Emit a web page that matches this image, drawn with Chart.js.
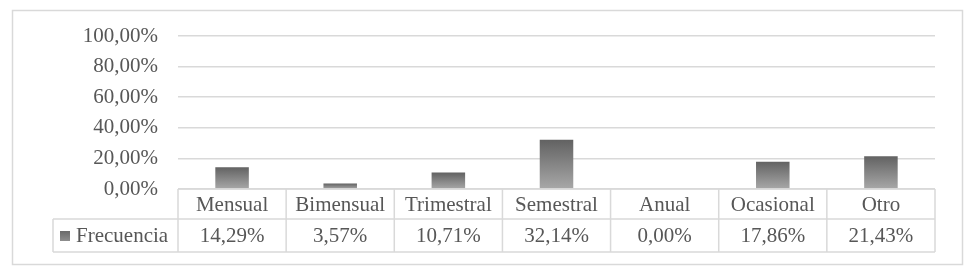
<!DOCTYPE html>
<html>
<head>
<meta charset="utf-8">
<script src="https://cdn.jsdelivr.net/npm/chart.js@4.4.1/dist/chart.umd.min.js"></script>
<style>
  html, body { margin: 0; padding: 0; background: #ffffff; }
  #wrap { width: 970px; height: 273px; position: relative; }
</style>
</head>
<body>
<div id="wrap"><canvas id="grafico"></canvas></div>
<script>
const categorias = ['Mensual', 'Bimensual', 'Trimestral', 'Semestral', 'Anual', 'Ocasional', 'Otro'];
const frecuencia = [0.1429, 0.0357, 0.1071, 0.3214, 0, 0.1786, 0.2143];
const nomeSerie = 'Frecuencia';

const fonte = 'Liberation Serif, Times New Roman, serif';
const corTexto = '#575757';
const corLinha = '#d9d9d9';

function formatarPct(v) {
  return (v * 100).toFixed(2).replace('.', ',') + '%';
}

// gradiente por barra, escuro em cima e claro na base
function corBarra(ctx) {
  const chart = ctx.chart;
  const y = chart.scales.y;
  if (!chart.chartArea || !y || ctx.parsed == null) return '#808080';
  const topo = y.getPixelForValue(ctx.parsed.y);
  const base = y.getPixelForValue(0);
  if (base - topo < 1) return '#808080';
  const g = chart.ctx.createLinearGradient(0, topo, 0, base);
  g.addColorStop(0, '#626262');
  g.addColorStop(1, '#a8a8a8');
  return g;
}

// tabela de dados embaixo do grafico + borda externa
const tabelaPlugin = {
  id: 'tabela',
  afterDraw(chart) {
    const c = chart.ctx;
    const area = chart.chartArea;
    const n = categorias.length;
    const colW = (area.right - area.left) / n;
    const y0 = area.bottom;
    const y1 = y0 + 30;
    const y2 = y1 + 33;
    const xLeg = 53;

    c.save();
    c.strokeStyle = corLinha;
    c.lineWidth = 1.5;

    // borda externa
    c.strokeRect(12.5, 10.5, 950, 254);

    // linhas horizontais
    c.beginPath();
    c.moveTo(area.left, y0); c.lineTo(area.right, y0);
    c.moveTo(xLeg, y1); c.lineTo(area.right, y1);
    c.moveTo(xLeg, y2); c.lineTo(area.right, y2);
    // verticais
    c.moveTo(xLeg, y1); c.lineTo(xLeg, y2);
    for (let i = 0; i <= n; i++) {
      const x = area.left + i * colW;
      c.moveTo(x, y0); c.lineTo(x, y2);
    }
    c.stroke();

    c.fillStyle = corTexto;
    c.font = '21px ' + fonte;
    c.textAlign = 'center';
    c.textBaseline = 'middle';
    for (let i = 0; i < n; i++) {
      const cx = area.left + (i + 0.5) * colW;
      c.fillText(categorias[i], cx, (y0 + y1) / 2 + 1);
      c.fillText(formatarPct(frecuencia[i]), cx, (y1 + y2) / 2 + 1);
    }

    // legenda
    const g = c.createLinearGradient(0, 231, 0, 241);
    g.addColorStop(0, '#6a6a6a');
    g.addColorStop(1, '#8e8e8e');
    c.fillStyle = g;
    c.fillRect(60, 231, 10, 10);
    c.fillStyle = corTexto;
    c.textAlign = 'left';
    c.fillText(nomeSerie, 76, (y1 + y2) / 2 + 1);
    c.restore();
  }
};

document.addEventListener('DOMContentLoaded', () => {
  const ctx = document.getElementById('grafico');

  new Chart(ctx, {
    type: 'bar',
    data: {
      labels: categorias,
      datasets: [{
        label: nomeSerie,
        data: frecuencia,
        backgroundColor: corBarra,
        borderWidth: 0,
        categoryPercentage: 1,
        barPercentage: 0.31
      }]
    },
    options: {
      responsive: true,
      maintainAspectRatio: false,
      animation: false,
      events: [],
      layout: {
        padding: { left: 0, right: 35, top: 36, bottom: 84 }
      },
      plugins: {
        legend: { display: false },
        tooltip: { enabled: false }
      },
      scales: {
        x: {
          display: false
        },
        y: {
          min: 0,
          max: 1,
          afterFit: (scale) => { scale.width = 178; },
          ticks: {
            stepSize: 0.2,
            padding: 20,
            color: corTexto,
            font: { family: fonte, size: 21 },
            callback: (v) => formatarPct(v)
          },
          grid: {
            color: corLinha,
            lineWidth: 1.5,
            drawTicks: false
          },
          border: { display: false }
        }
      }
    },
    plugins: [tabelaPlugin]
  });
});
</script>
</body>
</html>
